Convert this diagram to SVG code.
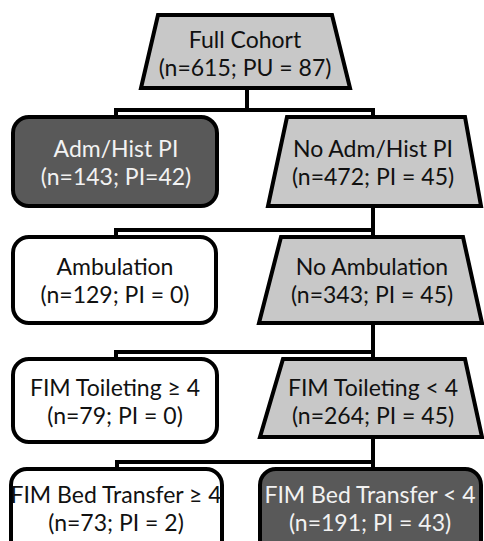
<svg xmlns="http://www.w3.org/2000/svg" width="484" height="541" viewBox="0 0 484 541">
<style>
.n{stroke:#000;stroke-width:4;stroke-linejoin:miter}
.g{fill:#c8c8c8}
.d{fill:#595959}
.w{fill:#fff}
text{font-family:Lato,"Open Sans","Liberation Sans",sans-serif;font-size:23px;text-anchor:middle;fill:#111}
.lt{fill:#f2f2f2}
.c{fill:none;stroke:#000;stroke-width:4}
</style>
<rect width="484" height="541" fill="#fff"/>
<g id="connectors">
<path class="c" d="M247,88V110M116,117V110H373V117"/>
<path class="c" d="M373,206V230M116,237V230H373V237"/>
<path class="c" d="M373,323V352M116,359V352H373V359"/>
<path class="c" d="M373,437V462M117,469V462H373V469"/>
</g>
<g id="full-cohort">
<polygon class="n g" points="158,15 332,15 350,88 141,88"/>
<text x="245" y="48">Full Cohort</text>
<text x="245" y="76">(n=615; PU = 87)</text>
</g>
<g id="adm-hist">
<rect class="n d" x="13" y="117" width="204" height="89" rx="16"/>
<text class="lt" x="116" y="157">Adm/Hist PI</text>
<text class="lt" x="116" y="185">(n=143; PI=42)</text>
</g>
<g id="no-adm-hist">
<polygon class="n g" points="287,117 465,117 481,206 268,206"/>
<text x="373" y="157">No Adm/Hist PI</text>
<text x="373" y="185">(n=472; PI = 45)</text>
</g>
<g id="ambulation">
<rect class="n w" x="13" y="237" width="203" height="86" rx="16"/>
<text x="115" y="275">Ambulation</text>
<text x="115" y="303">(n=129; PI = 0)</text>
</g>
<g id="no-ambulation">
<polygon class="n g" points="281,237 463,237 482,323 259,323"/>
<text x="372" y="275">No Ambulation</text>
<text x="372" y="303">(n=343; PI = 45)</text>
</g>
<g id="toileting-ge4">
<rect class="n w" x="13" y="359" width="204" height="83" rx="16"/>
<text x="115" y="396">FIM Toileting ≥ 4</text>
<text x="115" y="424">(n=79; PI = 0)</text>
</g>
<g id="toileting-lt4">
<polygon class="n g" points="283,359 465,359 482,437 260,437"/>
<text x="373" y="396">FIM Toileting &lt; 4</text>
<text x="373" y="424">(n=264; PI = 45)</text>
</g>
<g id="bed-ge4">
<rect class="n w" x="11" y="469" width="211" height="100" rx="16"/>
<text x="116" y="503">FIM Bed Transfer ≥ 4</text>
<text x="116" y="531">(n=73; PI = 2)</text>
</g>
<g id="bed-lt4">
<rect class="n d" x="260" y="469" width="221" height="100" rx="16"/>
<text class="lt" x="370" y="503">FIM Bed Transfer &lt; 4</text>
<text class="lt" x="370" y="531">(n=191; PI = 43)</text>
</g>
</svg>
